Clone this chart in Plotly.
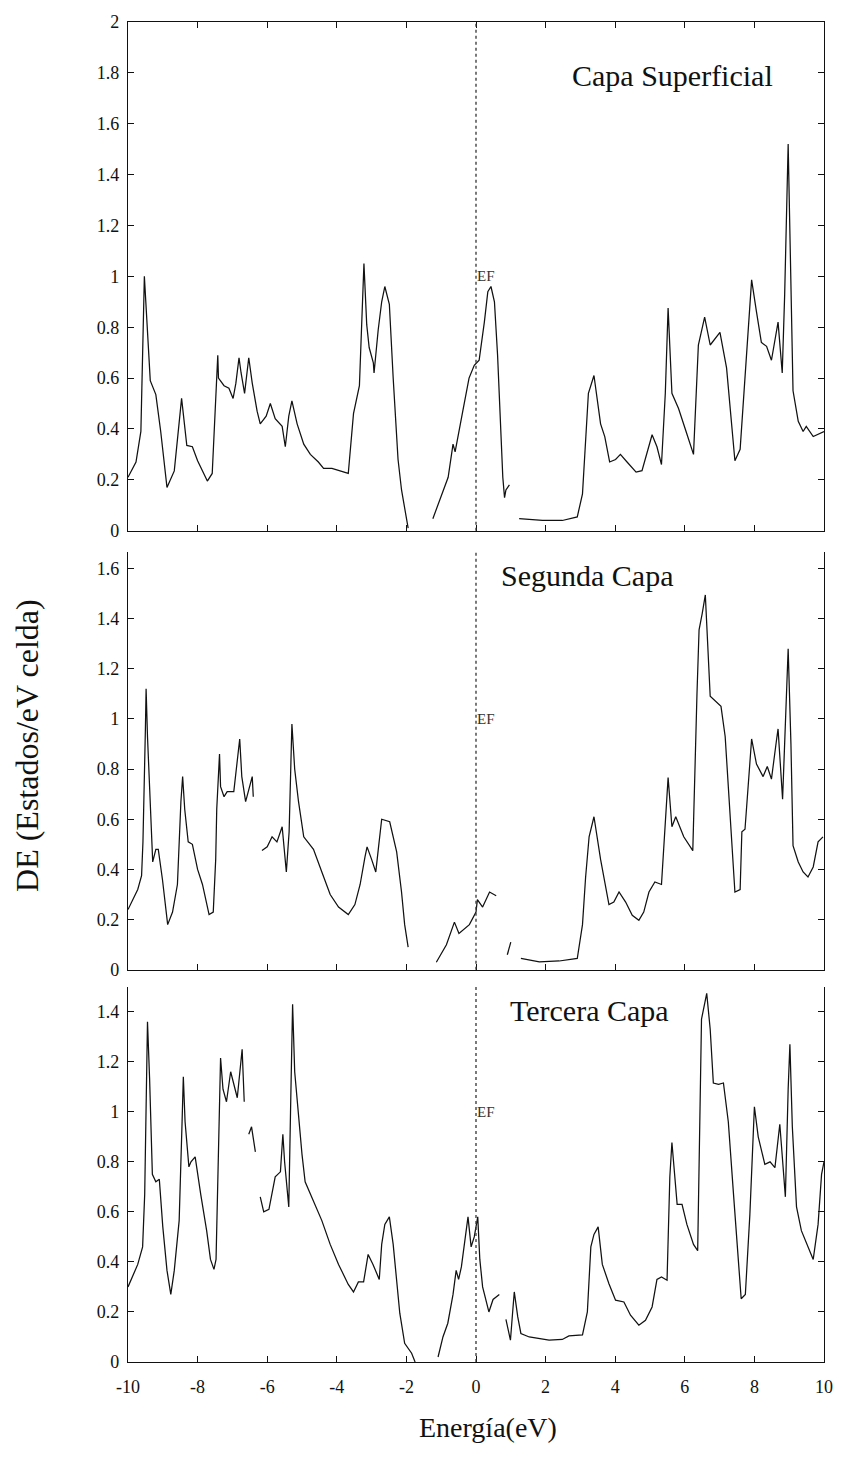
import plotly.graph_objects as go

# Densidad de estados por capa (Energía en eV, DE en estados/eV celda); None = tramo sin trazo
e_sup = [-10.0, -9.77, -9.63, -9.53, -9.36, -9.2, -9.06, -8.88, -8.67, -8.46, -8.31, -8.15, -8.0,
         -7.86, -7.72, -7.58, -7.48, -7.42, -7.4, -7.24, -7.1, -6.98, -6.9, -6.81, -6.75, -6.65,
         -6.53, -6.43, -6.29, -6.2, -6.03, -5.91, -5.77, -5.57, -5.48, -5.38, -5.29, -5.14, -4.95,
         -4.76, -4.53, -4.38, -4.14, -3.91, -3.67, -3.52, -3.35, -3.28, -3.22, -3.14, -3.07, -2.95,
         -2.93, -2.81, -2.71, -2.62, -2.49, -2.38, -2.24, -2.14, -1.95, None,
         -1.24, -1.04, -0.8, -0.66, -0.6, -0.38, -0.2, -0.05, 0.09, 0.24, 0.34, 0.43, 0.53, 0.62,
         0.67, 0.72, 0.77, 0.82, 0.86, 0.96, None,
         1.24, 1.91, 2.48, 2.91, 3.06, 3.15, 3.23, 3.39, 3.58, 3.7, 3.84, 4.01, 4.15, 4.34, 4.6,
         4.77, 4.91, 5.06, 5.2, 5.33, 5.44, 5.52, 5.63, 5.82, 6.06, 6.25, 6.39, 6.57, 6.73, 7.01,
         7.2, 7.44, 7.59, 7.73, 7.92, 8.06, 8.2, 8.35, 8.49, 8.68, 8.8, 8.87, 8.97, 9.11, 9.26,
         9.4, 9.49, 9.69, 10.0]
de_sup = [0.21, 0.27, 0.39, 1.0, 0.59, 0.535, 0.39, 0.17, 0.235, 0.52, 0.335, 0.33, 0.275,
          0.235, 0.195, 0.225, 0.535, 0.69, 0.6, 0.57, 0.56, 0.52, 0.58, 0.68, 0.62, 0.54,
          0.68, 0.58, 0.47, 0.42, 0.45, 0.5, 0.44, 0.41, 0.33, 0.45, 0.51, 0.42, 0.34,
          0.3, 0.27, 0.245, 0.245, 0.235, 0.225, 0.46, 0.57, 0.83, 1.05, 0.81, 0.72, 0.66,
          0.62, 0.79, 0.9, 0.96, 0.89, 0.6, 0.28, 0.16, 0.01, None,
          0.047, 0.12, 0.21, 0.34, 0.31, 0.47, 0.6, 0.65, 0.67, 0.82, 0.94, 0.96, 0.9, 0.69,
          0.54, 0.34, 0.21, 0.13, 0.16, 0.18, None,
          0.047, 0.04, 0.04, 0.054, 0.145, 0.34, 0.54, 0.61, 0.42, 0.37, 0.27, 0.28, 0.3, 0.27, 0.23,
          0.236, 0.3, 0.377, 0.33, 0.26, 0.54, 0.875, 0.54, 0.48, 0.38, 0.3, 0.73, 0.84, 0.73, 0.78,
          0.64, 0.275, 0.32, 0.6, 0.986, 0.86, 0.74, 0.725, 0.67, 0.82, 0.62, 0.93, 1.52, 0.55, 0.43,
          0.39, 0.41, 0.37, 0.39]

e_seg = [-10.0, -9.72, -9.61, -9.57, -9.5, -9.48, -9.44, -9.36, -9.29, -9.2, -9.13, -9.01, -8.86,
         -8.72, -8.58, -8.48, -8.43, -8.37, -8.27, -8.15, -8.0, -7.86, -7.67, -7.55, -7.48, -7.45,
         -7.37, -7.34, -7.24, -7.15, -6.96, -6.79, -6.73, -6.62, -6.53, -6.43, -6.4, None,
         -6.15, -6.0, -5.86, -5.72, -5.57, -5.45, -5.37, -5.29, -5.21, -5.1, -4.95, -4.67, -4.43,
         -4.19, -3.95, -3.67, -3.48, -3.33, -3.19, -3.13, -3.0, -2.88, -2.8, -2.71, -2.48, -2.28,
         -2.14, -2.05, -1.95, None,
         -1.14, -0.85, -0.62, -0.49, -0.19, 0.0, 0.04, 0.19, 0.39, 0.58, None,
         0.9, 1.0, None,
         1.29, 1.82, 2.39, 2.91, 3.06, 3.15, 3.25, 3.39, 3.58, 3.82, 3.96, 4.11, 4.3, 4.49, 4.68,
         4.82, 4.97, 5.14, 5.33, 5.44, 5.52, 5.63, 5.74, 5.97, 6.11, 6.23, 6.35, 6.41, 6.5, 6.59,
         6.73, 6.87, 7.04, 7.16, 7.3, 7.44, 7.59, 7.64, 7.73, 7.81, 7.92, 8.06, 8.25, 8.37, 8.49,
         8.63, 8.68, 8.81, 8.87, 8.97, 9.05, 9.11, 9.26, 9.4, 9.54, 9.69, 9.83, 9.97]
de_seg = [0.24, 0.32, 0.375, 0.51, 0.96, 1.12, 0.93, 0.64, 0.43, 0.48, 0.48, 0.36, 0.18,
          0.23, 0.34, 0.67, 0.77, 0.64, 0.51, 0.5, 0.4, 0.34, 0.22, 0.23, 0.44, 0.64,
          0.86, 0.73, 0.69, 0.71, 0.71, 0.92, 0.77, 0.67, 0.72, 0.77, 0.69, None,
          0.475, 0.49, 0.53, 0.51, 0.57, 0.39, 0.55, 0.98, 0.8, 0.67, 0.53, 0.48, 0.39,
          0.3, 0.25, 0.22, 0.26, 0.34, 0.45, 0.49, 0.44, 0.39, 0.49, 0.6, 0.59, 0.47,
          0.31, 0.18, 0.09, None,
          0.03, 0.1, 0.19, 0.145, 0.18, 0.23, 0.28, 0.25, 0.31, 0.295, None,
          0.06, 0.11, None,
          0.045, 0.032, 0.035, 0.045, 0.18, 0.37, 0.53, 0.61, 0.44, 0.26, 0.27, 0.31, 0.27, 0.217, 0.197,
          0.23, 0.31, 0.35, 0.34, 0.57, 0.766, 0.57, 0.61, 0.53, 0.5, 0.475, 1.1, 1.355, 1.42, 1.494,
          1.09, 1.07, 1.05, 0.93, 0.64, 0.31, 0.32, 0.55, 0.56, 0.73, 0.92, 0.82, 0.77, 0.81, 0.76,
          0.91, 0.96, 0.68, 0.9, 1.28, 0.9, 0.495, 0.43, 0.39, 0.37, 0.41, 0.51, 0.53]

e_ter = [-10.0, -9.87, -9.72, -9.58, -9.52, -9.44, -9.38, -9.3, -9.2, -9.1, -9.0, -8.88, -8.77,
         -8.67, -8.53, -8.45, -8.41, -8.36, -8.25, -8.19, -8.07, -7.91, -7.74, -7.63, -7.53, -7.47,
         -7.39, -7.34, -7.27, -7.17, -7.05, -6.96, -6.86, -6.72, -6.66, None,
         -6.53, -6.45, -6.34, None,
         -6.2, -6.1, -5.95, -5.77, -5.62, -5.55, -5.5, -5.38, -5.33, -5.27, -5.21, -5.08, -5.0,
         -4.91, -4.67, -4.43, -4.19, -3.95, -3.67, -3.52, -3.38, -3.23, -3.1, -2.96, -2.78, -2.71,
         -2.62, -2.49, -2.38, -2.29, -2.19, -2.05, -1.85, -1.75, None,
         -1.09, -0.95, -0.81, -0.66, -0.57, -0.5, -0.42, -0.28, -0.23, -0.14, -0.05, 0.05, 0.11,
         0.19, 0.37, 0.49, 0.67, None,
         0.86, 0.99, 1.05, 1.1, 1.2, 1.29, 1.53, 1.82, 2.1, 2.48, 2.67, 3.06, 3.2, 3.3, 3.39, 3.51,
         3.63, 3.82, 4.01, 4.25, 4.44, 4.68, 4.87, 5.06, 5.2, 5.33, 5.49, 5.57, 5.63, 5.78, 5.92,
         6.06, 6.25, 6.37, 6.44, 6.48, 6.63, 6.73, 6.82, 6.97, 7.11, 7.25, 7.4, 7.54, 7.62, 7.74,
         7.87, 8.0, 8.11, 8.3, 8.45, 8.59, 8.73, 8.78, 8.89, 8.97, 9.02, 9.09, 9.21, 9.35, 9.54,
         9.69, 9.83, 9.93, 10.0]
de_ter = [0.3, 0.34, 0.39, 0.46, 0.67, 1.36, 1.135, 0.75, 0.72, 0.73, 0.54, 0.366, 0.27,
          0.366, 0.565, 0.94, 1.14, 0.96, 0.78, 0.8, 0.82, 0.67, 0.525, 0.41, 0.37, 0.41,
          0.94, 1.215, 1.09, 1.04, 1.16, 1.11, 1.056, 1.25, 1.04, None,
          0.91, 0.94, 0.84, None,
          0.66, 0.6, 0.61, 0.74, 0.76, 0.91, 0.8, 0.62, 0.998, 1.43, 1.16, 0.94, 0.83,
          0.72, 0.645, 0.565, 0.47, 0.39, 0.31, 0.28, 0.32, 0.32, 0.43, 0.39, 0.33, 0.47,
          0.55, 0.58, 0.47, 0.34, 0.195, 0.075, 0.035, 0.0, None,
          0.02, 0.1, 0.155, 0.27, 0.366, 0.33, 0.38, 0.525, 0.58, 0.46, 0.5, 0.58, 0.41,
          0.3, 0.2, 0.25, 0.27, None,
          0.17, 0.087, 0.194, 0.28, 0.18, 0.114, 0.1, 0.094, 0.087, 0.09, 0.104, 0.108, 0.2, 0.46, 0.51, 0.54,
          0.39, 0.313, 0.247, 0.24, 0.187, 0.147, 0.167, 0.22, 0.33, 0.34, 0.327, 0.74, 0.877, 0.63, 0.63,
          0.55, 0.47, 0.445, 1.135, 1.37, 1.473, 1.33, 1.115, 1.11, 1.115, 0.96, 0.67, 0.41, 0.253, 0.27,
          0.59, 1.02, 0.9, 0.79, 0.8, 0.777, 0.95, 0.86, 0.66, 1.09, 1.27, 0.94, 0.62, 0.525, 0.46,
          0.41, 0.55, 0.75, 0.8]

capas = ["Capa Superficial", "Segunda Capa", "Tercera Capa"]
x_ticks = [-10, -8, -6, -4, -2, 0, 2, 4, 6, 8, 10]
x_ticktext = ["-10", "-8", "-6", "-4", "-2", "0", "2", "4", "6", "8", "10"]
y_ticks_sup = [0, 0.2, 0.4, 0.6, 0.8, 1, 1.2, 1.4, 1.6, 1.8, 2]
y_ticks_seg = [0, 0.2, 0.4, 0.6, 0.8, 1, 1.2, 1.4, 1.6]
y_ticks_ter = [0, 0.2, 0.4, 0.6, 0.8, 1, 1.2, 1.4]
y_max = [2.0, 1.667, 1.5]
ef_label = "EF"

SERIF = "Liberation Serif, Times New Roman, serif"
INK = "#111111"

series = [(e_sup, de_sup), (e_seg, de_seg), (e_ter, de_ter)]
yticks = [y_ticks_sup, y_ticks_seg, y_ticks_ter]
domains = [[0.6204, 1.0], [0.2927, 0.6048], [0.0, 0.2801]]
title_pos = [(5.65, 1.79), (3.2, 1.57), (3.25, 1.405)]

fig = go.Figure()
layout = dict(
    width=845, height=1457,
    margin=dict(l=128, r=18, t=16, b=95),
    paper_bgcolor="white", plot_bgcolor="white",
    showlegend=False,
    font=dict(family=SERIF, color=INK),
)

annotations = []
shapes = []
for i, ((ex, dy), name) in enumerate(zip(series, capas)):
    n = "" if i == 0 else str(i + 1)
    xa, ya = "x" + n, "y" + n
    fig.add_trace(go.Scatter(
        x=ex, y=dy, mode="lines", xaxis=xa, yaxis=ya,
        line=dict(color=INK, width=1.25), connectgaps=False, hoverinfo="skip",
    ))
    layout["xaxis" + n] = dict(
        domain=[0, 1], anchor=ya, range=[-10, 10],
        tickvals=x_ticks, ticktext=x_ticktext, showticklabels=(i == 2),
        ticks="inside", ticklen=6, tickcolor=INK, tickwidth=1,
        ticklabelstandoff=8,
        showline=True, linecolor=INK, linewidth=1.3,
        mirror=("ticks" if i == 0 else False),
        showgrid=False, zeroline=False,
        tickfont=dict(family=SERIF, size=18, color=INK),
    )
    layout["yaxis" + n] = dict(
        domain=domains[i], anchor=xa, range=[0, y_max[i]],
        tickvals=yticks[i], ticktext=[("%g" % v) for v in yticks[i]],
        ticks="inside", ticklen=6, tickcolor=INK, tickwidth=1,
        ticklabelstandoff=4,
        showline=True, linecolor=INK, linewidth=1.3, mirror="ticks",
        showgrid=False, zeroline=False,
        tickfont=dict(family=SERIF, size=18, color=INK),
    )
    # nivel de Fermi
    shapes.append(dict(
        type="line", xref=xa, yref=ya + " domain", x0=0, x1=0, y0=0, y1=1,
        line=dict(color="#333333", width=1.3, dash="dot"),
    ))
    annotations.append(dict(
        x=0.3, y=1.0, xref=xa, yref=ya, text=ef_label, showarrow=False,
        xanchor="center", yanchor="middle",
        font=dict(family=SERIF, size=15, color="#333333"),
    ))
    tx, ty = title_pos[i]
    annotations.append(dict(
        x=tx, y=ty, xref=xa, yref=ya, text=name, showarrow=False,
        xanchor="center", yanchor="middle",
        font=dict(family=SERIF, size=30, color=INK),
    ))

annotations.append(dict(
    x=-0.146, y=0.46, xref="paper", yref="paper", text="DE (Estados/eV celda)",
    textangle=-90, showarrow=False, xanchor="center", yanchor="middle",
    font=dict(family=SERIF, size=32, color=INK),
))
annotations.append(dict(
    x=0.517, y=-0.049, xref="paper", yref="paper", text="Energía(eV)",
    showarrow=False, xanchor="center", yanchor="middle",
    font=dict(family=SERIF, size=28, color=INK),
))

layout["annotations"] = annotations
layout["shapes"] = shapes
fig.update_layout(**layout)
fig.write_html("out.html")
